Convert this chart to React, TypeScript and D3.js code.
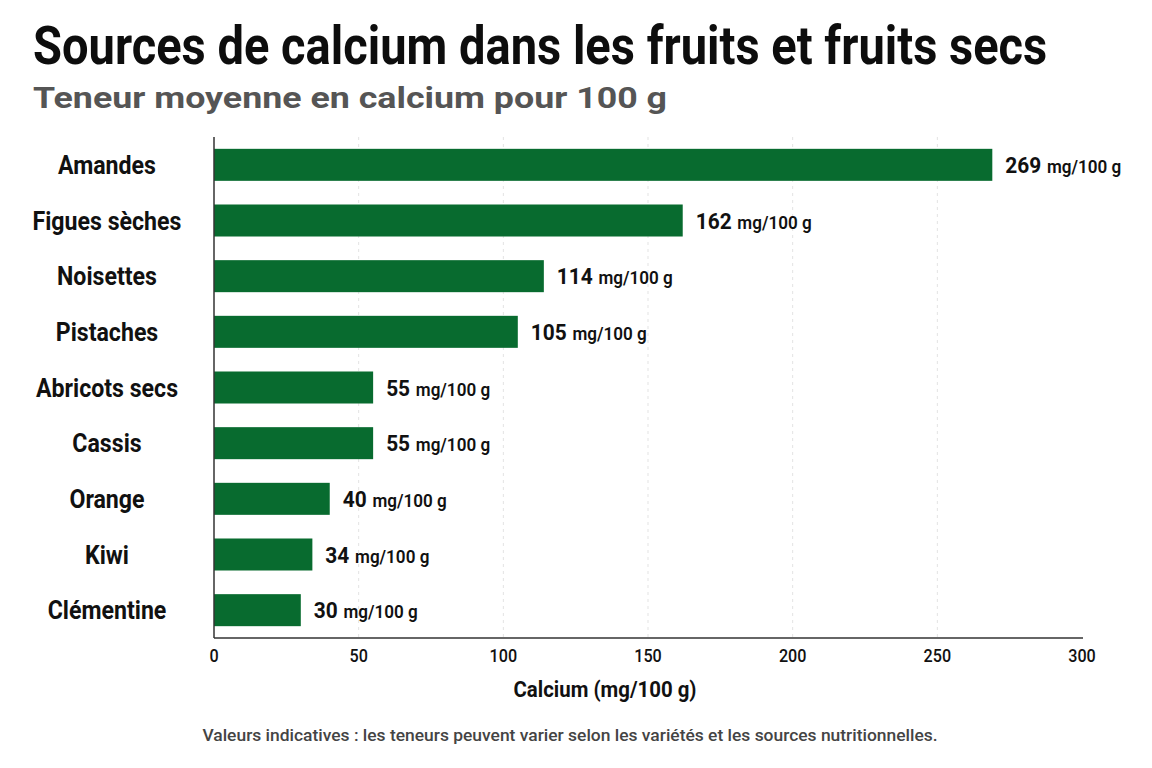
import { useLayoutEffect, useRef, useState } from 'react';
import * as d3 from 'd3';

const categories = [
  'Amandes',
  'Figues sèches',
  'Noisettes',
  'Pistaches',
  'Abricots secs',
  'Cassis',
  'Orange',
  'Kiwi',
  'Clémentine',
];
const calcium = [269, 162, 114, 105, 55, 55, 40, 34, 30];
const xTicks = [0, 50, 100, 150, 200, 250, 300];

const W = 1152;
const H = 768;
const FONT = 'Roboto, "Noto Sans", sans-serif';
const GREEN = '#086b2f';

// text squeezed horizontally so that it spans exactly `width` px
const FitText = ({
  x,
  y,
  width,
  anchor = 'start',
  children,
  ...rest
}: {
  x: number;
  y: number;
  width: number;
  anchor?: 'start' | 'middle';
  children: string;
  [k: string]: any;
}) => {
  const ref = useRef<SVGTextElement>(null);
  const [sx, setSx] = useState(0.8);
  useLayoutEffect(() => {
    if (!ref.current) return;
    const w = ref.current.getComputedTextLength();
    if (w > 0) setSx(width / w);
  }, [width, children]);
  return (
    <text ref={ref} transform={`translate(${x},${y}) scale(${sx},1)`} textAnchor={anchor} {...rest}>
      {children}
    </text>
  );
};

export default function App() {
  const x = d3.scaleLinear().domain([0, 300]).range([214, 1082]);
  const y = d3
    .scaleBand<string>()
    .domain(categories)
    .range([137, 638])
    .paddingInner(0.425)
    .paddingOuter(0.2125);

  const [x0, x1] = x.range();
  const [y0, y1] = y.range();

  return (
    <svg
      width={W}
      height={H}
      style={{ position: 'absolute', left: 0, top: 0, background: '#fff' }}
      fontFamily={FONT}
    >
      <rect width={W} height={H} fill="#fff" />

      {/* titles */}
      <FitText x={33} y={64} width={1014} fontSize={54} fontWeight={700} fill="#0d0d0d">
        Sources de calcium dans les fruits et fruits secs
      </FitText>
      <FitText x={33} y={108} width={634} fontSize={29} fontWeight={700} fill="#555">
        Teneur moyenne en calcium pour 100 g
      </FitText>

      {/* grid */}
      {xTicks.slice(1, -1).map((t) => (
        <line
          key={t}
          x1={x(t)}
          x2={x(t)}
          y1={y0}
          y2={y1}
          stroke="#e3e3e3"
          strokeWidth={1}
          strokeDasharray="3,4"
        />
      ))}

      {/* bars */}
      {categories.map((c, i) => (
        <rect key={c} x={x0} y={y(c)} width={x(calcium[i]) - x0} height={y.bandwidth()} fill={GREEN} />
      ))}

      {/* value labels */}
      {categories.map((c, i) => (
        <text
          key={c}
          transform={`translate(${x(calcium[i]) + 13},${(y(c) ?? 0) + y.bandwidth() / 2 + 8}) scale(0.95,1)`}
          fill="#111"
        >
          <tspan fontSize={22} fontWeight={700}>{calcium[i]}</tspan>
          <tspan fontSize={18} fontWeight={600} dx={6}>mg/100 g</tspan>
        </text>
      ))}

      {/* category labels */}
      {categories.map((c) => (
        <text
          key={c}
          transform={`translate(107,${(y(c) ?? 0) + y.bandwidth() / 2 + 9}) scale(0.89,1)`}
          textAnchor="middle"
          fontSize={26}
          fontWeight={700}
          fill="#111"
        >
          {c}
        </text>
      ))}

      {/* axes */}
      <line x1={x0} x2={x0} y1={y0} y2={y1} stroke="#333" strokeWidth={1.5} />
      <line x1={x0} x2={x1 + 1} y1={y1} y2={y1} stroke="#333" strokeWidth={1.5} />
      {xTicks.map((t) => (
        <text
          key={t}
          transform={`translate(${x(t)},662) scale(0.85,1)`}
          textAnchor="middle"
          fontSize={19}
          fontWeight={500}
          fill="#111"
        >
          {t}
        </text>
      ))}
      <FitText x={605} y={697} width={183} anchor="middle" fontSize={22} fontWeight={700} fill="#111">
        Calcium (mg/100 g)
      </FitText>

      {/* footnote */}
      <FitText x={570} y={741} width={735} anchor="middle" fontSize={16} fontWeight={500} fill="#444">
        Valeurs indicatives : les teneurs peuvent varier selon les variétés et les sources nutritionnelles.
      </FitText>
    </svg>
  );
}
